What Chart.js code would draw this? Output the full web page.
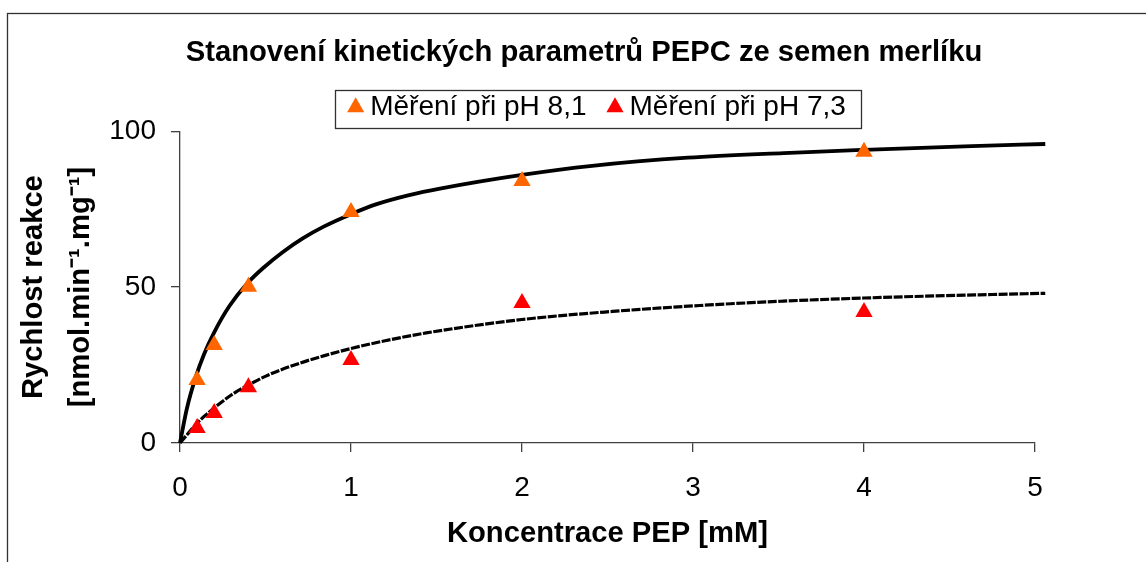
<!DOCTYPE html>
<html>
<head>
<meta charset="utf-8">
<script src="https://cdn.jsdelivr.net/npm/chart.js@4/dist/chart.umd.min.js"></script>
<style>
    html, body { margin: 0; padding: 0; background: #fff; overflow: hidden; }
    #wrap { position: absolute; left: 0; top: 0; }
</style>
</head>
<body>
<div id="wrap"><canvas id="kinChart" width="1168" height="562"></canvas></div>
<script>
// naměřené body
const concPts = [0.1, 0.2, 0.4, 1, 2, 4];
const rate81 = [20.2, 31.4, 50.1, 74.1, 84.0, 93.4];
const rate73 = [4.8, 9.6, 17.9, 26.6, 44.9, 42.0];

// proložené křivky
const fitX81 = [0, 0.04, 0.09, 0.14, 0.2, 0.29, 0.39, 0.49, 0.6, 0.72, 0.84, 1.0, 1.15, 1.34, 1.52, 2.0, 2.41, 2.97, 3.53, 4.0, 4.63, 5.06];
const fitY81 = [0, 11.0, 20.8, 28.4, 35.5, 44.0, 51.0, 56.3, 61.2, 65.7, 69.4, 73.4, 76.6, 79.5, 81.6, 86.0, 88.9, 91.5, 93.0, 94.0, 95.2, 95.9];
const fitX73 = [0, 0.065, 0.1, 0.16, 0.21, 0.3, 0.4, 0.52, 0.7, 0.85, 1.0, 1.2, 1.44, 2.0, 2.53, 3.04, 3.53, 4.0, 4.65, 5.06];
const fitY73 = [0, 4.2, 6.4, 9.4, 11.7, 15.4, 18.6, 21.9, 25.6, 28.1, 30.3, 32.8, 35.3, 39.6, 42.2, 44.1, 45.5, 46.5, 47.5, 48.0];

const xTickValues = [0, 1, 2, 3, 4, 5];
const yTickValues = [0, 50, 100];

const seriesNames = ['Měření při pH 8,1', 'Měření při pH 7,3'];
const chartTitle = 'Stanovení kinetických parametrů PEPC ze semen merlíku';
const xTitle = 'Koncentrace PEP [mM]';
const yTitle = ['Rychlost reakce', '[nmol.min\u207B\u00B9.mg\u207B\u00B9]'];

const FONT = '"Liberation Sans", Arial, sans-serif';
const AXIS_COLOR = '#404040';
const TITLE_OFFSET = 66.5;
const LEGEND_OFFSET = 83;

function toPoints(xs, ys) {
    return xs.map((x, i) => ({ x: x, y: ys[i] }));
}

// ramecek grafu, posun titulku a legendy, ramecek legendy
const framePlugin = {
    id: 'frame',
    afterLayout(chart) {
        chart.titleBlock.left += TITLE_OFFSET;
        chart.titleBlock.right += TITLE_OFFSET;
        chart.legend.left += LEGEND_OFFSET;
        chart.legend.right += LEGEND_OFFSET;
    },
    beforeDraw(chart) {
        const ctx = chart.ctx;
        ctx.save();
        ctx.fillStyle = '#fff';
        ctx.fillRect(0, 0, chart.width, chart.height);
        ctx.strokeStyle = '#303030';
        ctx.lineWidth = 1.3;
        ctx.strokeRect(7.5, 13.5, chart.width + 20, chart.height + 20);
        ctx.restore();
    },
    afterDraw(chart) {
        const boxes = chart.legend.legendHitBoxes;
        if (!boxes || !boxes.length) return;
        const left = Math.min(...boxes.map(b => b.left)) - 20;
        const right = Math.max(...boxes.map(b => b.left + b.width)) + 15;
        const top = boxes[0].top - 3;
        const bottom = boxes[0].top + boxes[0].height + 7;
        const ctx = chart.ctx;
        ctx.save();
        ctx.strokeStyle = '#303030';
        ctx.lineWidth = 1.3;
        ctx.strokeRect(Math.round(left) + 0.5, Math.round(top) + 0.5, Math.round(right - left), Math.round(bottom - top));
        ctx.restore();
    }
};

const ctx = document.getElementById('kinChart').getContext('2d');
new Chart(ctx, {
    type: 'scatter',
    data: {
        datasets: [
            {
                label: seriesNames[0],
                data: toPoints(concPts, rate81),
                pointStyle: 'triangle',
                pointRadius: 10,
                pointBorderWidth: 0,
                borderWidth: 0,
                backgroundColor: '#FF6600',
                borderColor: '#FF6600'
            },
            {
                label: seriesNames[1],
                data: toPoints(concPts, rate73),
                pointStyle: 'triangle',
                pointRadius: 10,
                pointBorderWidth: 0,
                borderWidth: 0,
                backgroundColor: '#FF0000',
                borderColor: '#FF0000'
            },
            {
                label: 'fit 8,1',
                data: toPoints(fitX81, fitY81),
                showLine: true,
                pointRadius: 0,
                borderColor: '#000',
                borderWidth: 3.8,
                cubicInterpolationMode: 'monotone',
                clip: false
            },
            {
                label: 'fit 7,3',
                data: toPoints(fitX73, fitY73),
                showLine: true,
                pointRadius: 0,
                borderColor: '#000',
                borderWidth: 3.2,
                borderDash: [9, 1.5],
                cubicInterpolationMode: 'monotone',
                clip: false
            }
        ]
    },
    options: {
        responsive: false,
        animation: false,
        devicePixelRatio: 1,
        layout: { padding: { top: 0, left: 0, right: 133, bottom: 0 } },
        plugins: {
            tooltip: { enabled: false },
            title: {
                display: true,
                text: chartTitle,
                color: '#000',
                font: { family: FONT, size: 29.2, weight: 'bold', lineHeight: 1 },
                padding: { top: 38, bottom: -2 }
            },
            legend: {
                display: true,
                position: 'top',
                labels: {
                    filter: item => item.datasetIndex < 2,
                    usePointStyle: true,
                    boxWidth: 1,
                    boxHeight: 14,
                    padding: 28,
                    color: '#000',
                    font: { family: FONT, size: 28 }
                }
            }
        },
        scales: {
            x: {
                type: 'linear',
                min: 0,
                max: 5,
                afterFit: scale => { scale.height = 119; },
                afterBuildTicks: scale => { scale.ticks = xTickValues.map(v => ({ value: v })); },
                ticks: { color: '#000', padding: 19, font: { family: FONT, size: 28 } },
                grid: { drawOnChartArea: false, drawTicks: true, tickLength: 9, color: AXIS_COLOR, lineWidth: 1.3 },
                border: { display: true, color: AXIS_COLOR, width: 1.3 },
                title: {
                    display: true,
                    text: xTitle,
                    color: '#000',
                    font: { family: FONT, size: 29.2, weight: 'bold', lineHeight: 1.2 },
                    padding: { top: 0, bottom: 10.5 }
                }
            },
            y: {
                type: 'linear',
                min: 0,
                max: 100,
                afterFit: scale => { scale.width = 180; },
                afterBuildTicks: scale => { scale.ticks = yTickValues.map(v => ({ value: v })); },
                ticks: { color: '#000', padding: 15, font: { family: FONT, size: 28 } },
                grid: { drawOnChartArea: false, drawTicks: true, tickLength: 9, color: AXIS_COLOR, lineWidth: 1.3 },
                border: { display: true, color: AXIS_COLOR, width: 1.3 },
                title: {
                    display: true,
                    text: yTitle,
                    color: '#000',
                    font: { family: FONT, size: 29.2, weight: 'bold', lineHeight: 1.62 },
                    padding: { top: 10, bottom: 0 }
                }
            }
        }
    },
    plugins: [framePlugin]
});
</script>
</body>
</html>
